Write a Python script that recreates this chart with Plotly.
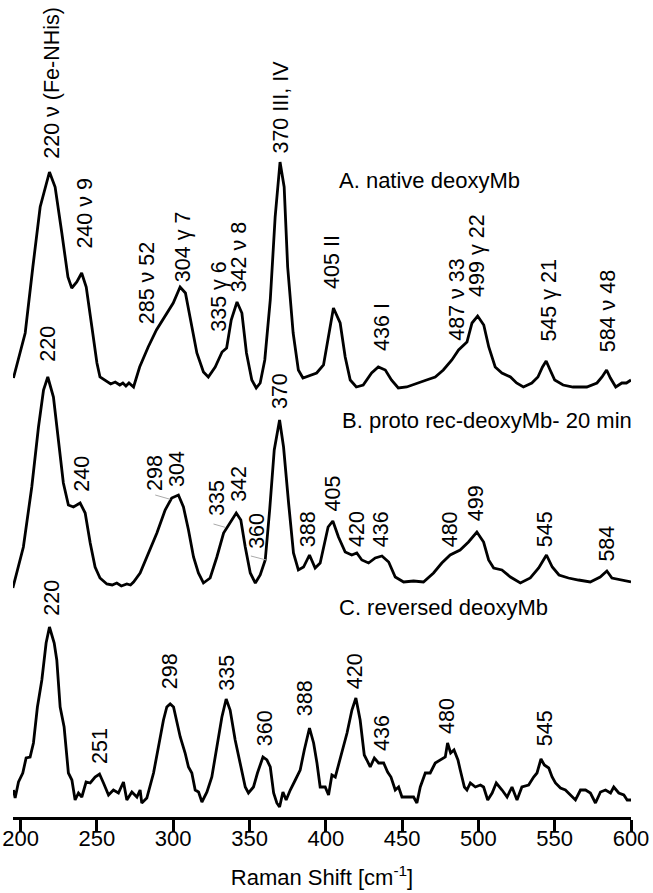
import plotly.graph_objects as go

# ---------------- data ----------------
# Spectrum A: native deoxyMb
xa = [195.3, 203, 208, 212.8, 218.9, 222.6, 227, 231, 233.5, 236.8, 240, 243, 246.7, 250, 252,
      256.5, 259, 262, 265, 267, 269, 271, 274, 278, 283.6, 289, 295.8, 300, 304.5, 308, 311,
      315.5, 319.8, 323, 327.5, 332, 335, 338, 341.8, 345, 348, 351.5, 354.4, 357, 360, 363.6,
      366.8, 370, 372.7, 375, 378.6, 382, 385, 389.8, 394, 398.5, 401.5, 405, 409.4, 412.7, 416,
      420, 424.5, 430, 434.4, 439, 443, 447.5, 453, 459.7, 466, 471.7, 477, 482.6, 487, 492.5,
      495.8, 499.5, 503.5, 506.8, 511, 515.4, 521, 525, 529.5, 535, 539, 542, 544.4, 547, 550,
      555.5, 562, 571, 577.7, 581, 584, 586.5, 590, 594, 597, 600]
ia = [9, 54, 120, 180, 215, 200, 154, 110, 99, 105, 114, 100, 60, 24, 10,
      5, 3, 5, 2, 4, 1, 4, 0, 20, 40, 57, 74, 84, 100, 94, 70,
      34, 15, 10, 20, 35, 39, 67, 85, 74, 34, 7, -1, 4, 27, 87,
      170, 225, 200, 120, 54, 17, 9, 12, 14, 22, 47, 79, 64, 30, 7,
      0, 2, 14, 20, 17, 7, -1, 0, 4, 7, 10, 17, 27, 37, 45,
      64, 71, 62, 40, 20, 14, 10, 4, 0, 4, 10, 20, 26, 17, 7,
      2, 0, 0, 4, 10, 17, 9, 0, 4, 4, 7]

# Spectrum B: proto rec-deoxyMb- 20 min
xb = [194.9, 201.8, 207.3, 211.7, 215, 217.8, 221.5, 224.8, 228, 231.3, 234.6, 239, 242.3, 245.6,
      248.8, 252, 256.5, 260, 263, 266, 269.6, 272, 274, 278.3, 283.8, 289.3, 294.7, 299, 303.4,
      306.7, 310, 313.3, 316.5, 319.8, 324.2, 328.6, 333, 337.3, 341.3, 344.3, 347.2, 350.5,
      353.8, 357, 360.3, 363.2, 366.2, 369.7, 372.3, 375.6, 378.8, 382, 385.4, 389.3, 393,
      396.3, 399.6, 401.5, 404.6, 408.3, 412.7, 417, 420.3, 423.6, 428, 432.4, 436.8, 441.2,
      445.5, 451, 457.5, 464, 470.6, 476, 481.5, 488, 493.5, 499, 503.4, 506.7, 510, 515.4, 521,
      527.5, 534, 539.5, 544.6, 548.4, 552.8, 559, 565.6, 573.3, 579.8, 584.2, 587.5, 593, 600]
ib = [-1, 40, 100, 160, 197, 210, 190, 147, 104, 82, 80, 84, 74, 44,
      20, 9, 3, 2, 4, 1, 3, 2, 5, 14, 34, 54, 77, 89, 92,
      80, 57, 30, 14, 4, 9, 30, 54, 64, 74, 67, 40, 14,
      4, 12, 27, 77, 137, 167, 140, 84, 34, 17, 20, 32, 19,
      24, 47, 60, 66, 50, 35, 32, 34, 27, 24, 29, 31, 25,
      10, 5, 6, 5, 14, 24, 32, 37, 45, 55, 45, 27, 19, 17, 10,
      4, 9, 19, 32, 20, 12, 9, 7, 5, 10, 16, 9, 7, 5]

# Spectrum C: reversed deoxyMb
xc = [195.3, 196.4, 198.6, 201.4, 203.6, 206.2, 208.4, 211, 213.9, 216.7, 218.9, 222, 223.7,
      225.9, 228.5, 231.3, 233.6, 235.7, 237.9, 240.1, 242.9, 245.6, 248.8, 251.7, 254.3, 257.6,
      260.8, 264.1, 267.4, 269.6, 272.9, 276.2, 278.3, 279.4, 282.7, 287.1, 290.3, 293.6, 295.8,
      298, 300.2, 302.4, 304.6, 307.8, 310, 312.2, 314.4, 316.6, 318.8, 322.1, 325.3, 328.6,
      331.9, 334.7, 337.3, 340.6, 343.9, 347.2, 349.3, 352.6, 355.2, 358.8, 361.4, 363.6, 365.8,
      367.9, 369.7, 371.9, 374, 376.7, 380, 383.2, 385.9, 389.3, 392, 394.2, 396.3, 399.6, 401.8,
      404, 406.2, 409, 411.6, 413.9, 417.1, 419.7, 422.5, 425.2, 426.9, 429.1, 431.8, 434.6,
      437.9, 440.5, 442.7, 445.5, 447.7, 449.9, 454.3, 457.5, 459.7, 461.9, 465.2, 468.4, 471.7,
      475, 478.3, 479.8, 481.8, 484, 486.6, 488.1, 490.8, 492.5, 494.7, 498, 501.3, 503.4, 506.1,
      509, 511.7, 515.5, 518.8, 522, 525.3, 528.5, 532.9, 536.2, 538.4, 541, 543.2, 546.1, 548.3,
      550.5, 553.8, 557, 560.3, 563.6, 566.9, 570.2, 573.4, 576.7, 580, 583.3, 586.6, 588.7, 592,
      595.3, 597.5, 600]
ic = [17, 9, 25, 34, 49, 50, 64, 100, 127, 164, 180, 164, 147,
      100, 80, 34, 27, 7, 14, 10, 25, 24, 30, 33, 24, 12,
      17, 14, 25, 7, 15, 10, 17, 4, 9, 34, 60, 87, 100,
      103, 100, 84, 70, 54, 40, 34, 17, 15, 5, 15, 30, 60,
      90, 108, 97, 67, 44, 20, 14, 20, 34, 50, 47, 40, 14,
      4, 0, 15, 7, 17, 27, 37, 57, 79, 64, 44, 20, 20, 12,
      32, 30, 47, 60, 74, 97, 109, 87, 52, 47, 40, 49, 44,
      44, 35, 30, 17, 20, 10, 10, 10, 4, 20, 34, 34, 44,
      47, 50, 64, 54, 57, 47, 37, 20, 17, 24, 20, 22, 20, 7,
      14, 24, 17, 10, 20, 7, 20, 22, 30, 34, 48, 42, 39, 30,
      24, 19, 17, 12, 7, 17, 17, 14, 4, 15, 17, 14, 20, 14,
      12, 7, 7]

spectra_names = ["A. native deoxyMb", "B. proto rec-deoxyMb- 20 min", "C. reversed deoxyMb"]
offsets = [430, 230, 10]   # vertical stacking offsets

x_ticks = [200, 250, 300, 350, 400, 450, 500, 550, 600]

# peak labels: (text, x position, bottom height in plot units)
labels_a = [("220 ν (Fe-NHis)", 220.4, 657), ("240 ν 9", 241.6, 567), ("285 ν 52", 283, 492),
            ("304 γ 7", 306.2, 534), ("335 γ 6", 329.5, 484), ("342 ν 8", 343, 524),
            ("370 III, IV", 370, 662), ("405 II", 404, 527), ("436 I", 436.8, 465),
            ("487 ν 33", 485.5, 475), ("499 γ 22", 499, 519), ("545 γ 21", 546, 474),
            ("584 ν 48", 584.8, 464)]
labels_b = [("220", 217.7, 454), ("240", 240, 324), ("298", 288, 325), ("304", 302.4, 329),
            ("335", 328.6, 300), ("342", 343, 314), ("360", 354.8, 267), ("370", 370, 407),
            ("388", 388.5, 269), ("405", 405, 305), ("420", 420.4, 269), ("436", 436.3, 269),
            ("480", 481.6, 269), ("499", 498.6, 295), ("545", 543.8, 269), ("584", 584, 254)]
labels_c = [("220", 220.4, 200), ("251", 252, 52), ("298", 298, 127), ("335", 335, 125),
            ("360", 360.3, 70), ("388", 386.5, 100), ("420", 419.3, 127), ("436", 436.8, 65),
            ("480", 479.4, 82), ("545", 543.8, 70)]
# thin grey leader lines (x0, y0, x1, y1) in plot units
leaders = [(288.2, 322, 298, 317.7), (326.4, 293, 334, 289.7), (350.9, 261, 361, 257)]
# panel title positions (x left, y middle)
title_pos = [(407.5, 637), (409.4, 397), (407.3, 210)]

# ---------------- figure ----------------
FONT = "Liberation Sans, Arial, sans-serif"
fig = go.Figure()
for xs, ys, off, name in zip([xa, xb, xc], [ia, ib, ic], offsets, spectra_names):
    fig.add_trace(go.Scatter(x=xs, y=[v + off for v in ys], mode="lines", name=name,
                             line=dict(color="black", width=2.8), showlegend=False,
                             hoverinfo="skip"))

ann = []
for lbls in (labels_a, labels_b, labels_c):
    for t, xv, yv in lbls:
        ann.append(dict(text=t, x=xv, y=yv, xref="x", yref="y", textangle=-90,
                        xanchor="center", yanchor="bottom", showarrow=False,
                        font=dict(family=FONT, size=21.5, color="black"), borderpad=0))
for name, (xv, yv) in zip(spectra_names, title_pos):
    ann.append(dict(text=name, x=xv, y=yv, xref="x", yref="y", xanchor="left",
                    yanchor="middle", showarrow=False,
                    font=dict(family=FONT, size=22, color="black")))
fig.update_layout(annotations=ann)

for x0, y0, x1, y1 in leaders:
    fig.add_shape(type="line", x0=x0, y0=y0, x1=x1, y1=y1, xref="x", yref="y",
                  line=dict(color="#aaaaaa", width=1))

fig.update_layout(
    width=653, height=893,
    margin=dict(l=13, r=22, t=0, b=76),
    paper_bgcolor="white", plot_bgcolor="white",
    font=dict(family=FONT, color="black"),
    xaxis=dict(range=[195, 600], tickvals=x_ticks, ticktext=[str(v) for v in x_ticks],
               showline=True, linecolor="black", linewidth=2.5,
               ticks="outside", ticklen=12, tickwidth=2.5, tickcolor="black",
               ticklabelstandoff=-12,
               tickfont=dict(family=FONT, size=22, color="black"),
               showgrid=False, zeroline=False,
               title=dict(text="Raman Shift [cm<sup>-1</sup>]", standoff=20,
                          font=dict(family=FONT, size=22, color="black"))),
    yaxis=dict(range=[0, 817], visible=False, showgrid=False, zeroline=False),
)

fig.write_html("out.html", config={"displayModeBar": False},
               post_script="document.body.style.margin='0';")
